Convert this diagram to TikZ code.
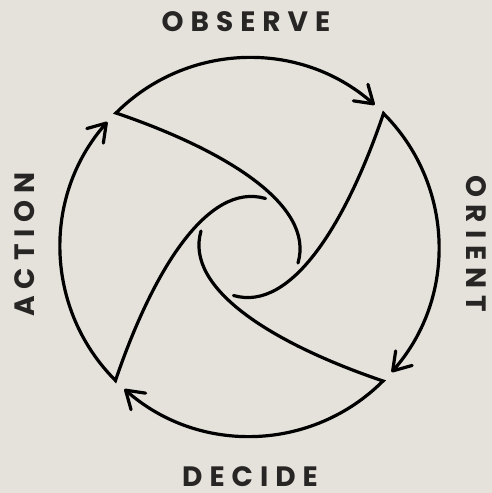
\documentclass[tikz,border=0pt]{standalone}
\usepackage{fontspec}
\newfontfamily\labelfont{Poppins}[LetterSpace=25]
\usetikzlibrary{arrows.meta}
\definecolor{bg}{RGB}{229,226,220}
\definecolor{txt}{RGB}{40,37,37}
\tikzset{
  lab/.style={text=txt, inner sep=0pt, font=\labelfont\bfseries\fontsize{28}{30}\selectfont},
  arm/.style={draw=black, line width=3.2pt, line join=miter, line cap=round,
    -{Straight Barb[length=17pt,width=22pt,line cap=round,line join=round]}}
}
\begin{document}
\begin{tikzpicture}[x=1pt,y=1pt]
\fill[bg] (0,0) rectangle (492,493);
\useasboundingbox (0,0) rectangle (492,493);
\coordinate (c) at (249.5,246);
\foreach \r in {0,-90,-180,-270}{
  \begin{scope}[shift={(c)}, rotate=\r]
    \coordinate (hook) at (48.5,-16);
    \coordinate (vtx) at (-133.5,134);
    \draw[arm] (hook) .. controls (65.5,42) and (-24.5,97) .. (vtx)
      arc[start angle=135, end angle=48.6, radius=189];
  \end{scope}
}
\node[lab] (observe) at (246,471) {OBSERVE};
\node[lab, rotate=-90] (orient) at (476.5,249) {ORIENT};
\node[lab] (decide) at (250,16) {DECIDE};
\node[lab, rotate=90] (action) at (24.5,248.5) {ACTION};
\end{tikzpicture}
\end{document}
